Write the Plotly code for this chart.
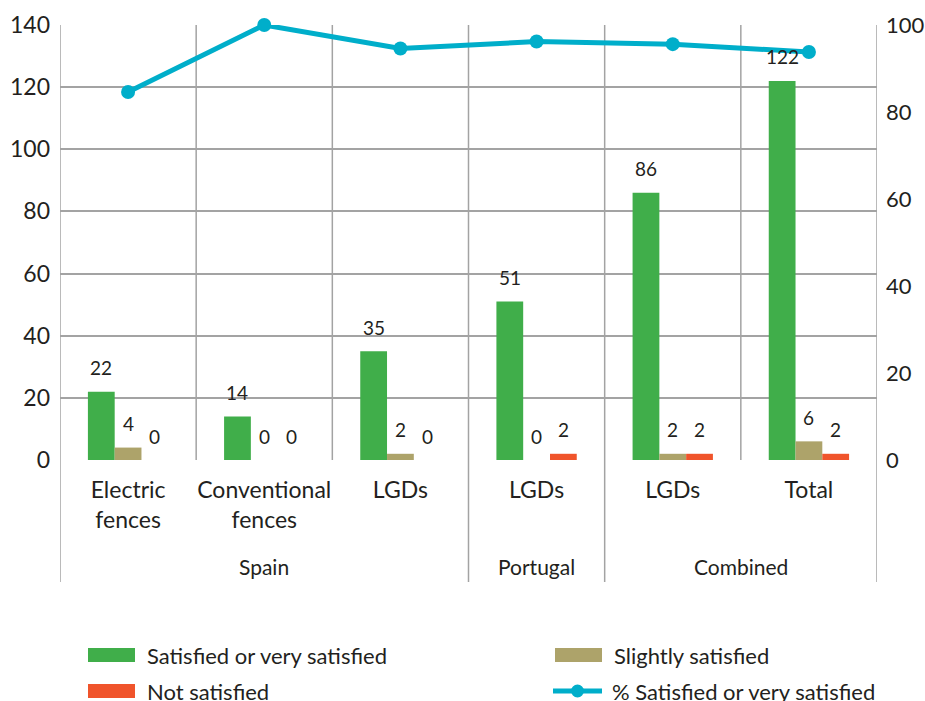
import plotly.graph_objects as go

# ---- data ----
categories = ["Electric<br>fences", "Conventional<br>fences", "LGDs", "LGDs", "LGDs", "Total"]
groups = ["Spain", "Portugal", "Combined"]
group_sizes = [3, 1, 2]
satisfied = [22, 14, 35, 51, 86, 122]
slightly = [4, 0, 2, 0, 2, 6]
not_satisfied = [0, 0, 0, 2, 2, 2]
pct_satisfied = [84.6, 100.0, 94.6, 96.2, 95.6, 93.8]
series_names = ["Satisfied or very satisfied", "Slightly satisfied", "Not satisfied",
                "% Satisfied or very satisfied"]
left_ticks = [0, 20, 40, 60, 80, 100, 120, 140]
right_ticks = [0, 20, 40, 60, 80, 100]

# ---- style ----
W, H = 925, 701
PL, PR, PT, PB = 60, 877, 25, 460          # plot area in page pixels
L, R, T, B = PL, W - PR, PT, H - PB
PW, PH = PR - PL, PB - PT
GREEN, TAN, RED, CYAN = "#40AE4A", "#ADA36A", "#F0542B", "#00AECA"
GRID = "#A3A3A3"
TXT = "#231F20"
FONT = "Lato"
BARGAP = 0.41

def px_x(px):
    return (px - PL) / PW

def px_y(py):
    return (PB - py) / PH

n = len(categories)
xs = list(range(n))
cat_px = PW / n
bar_px = cat_px * (1 - BARGAP) / 3

fig = go.Figure()
annotations = []
for k, (vals, name, col) in enumerate([(satisfied, series_names[0], GREEN),
                                       (slightly, series_names[1], TAN),
                                       (not_satisfied, series_names[2], RED)]):
    fig.add_trace(go.Bar(x=xs, y=vals, name=name, marker_color=col, marker_line_width=0,
                         showlegend=False))
    for xi, v in zip(xs, vals):
        annotations.append(dict(x=xi, y=v, xref="x", yref="y", text=str(v), showarrow=False,
                                xshift=(k - 1) * bar_px, yshift=24, yanchor="middle",
                                font=dict(family=FONT, size=19, color=TXT)))

fig.add_trace(go.Scatter(x=xs, y=pct_satisfied, name=series_names[3], yaxis="y2",
                         mode="lines+markers", line=dict(color=CYAN, width=5),
                         marker=dict(size=14, color=CYAN), showlegend=False, cliponaxis=False))

shapes = []
bounds = [0]
for s in group_sizes:
    bounds.append(bounds[-1] + s)
for i in range(n + 1):
    y0 = px_y(582) if i in bounds else 0
    shapes.append(dict(type="line", xref="x", yref="paper", x0=i - 0.5, x1=i - 0.5,
                       y0=y0, y1=1, line=dict(color=GRID, width=1.5), layer="below"))

for g, a, b in zip(groups, bounds[:-1], bounds[1:]):
    annotations.append(dict(x=(a + b - 1) / 2, xref="x", y=px_y(566), yref="paper",
                            text=g, showarrow=False, yanchor="middle",
                            font=dict(family=FONT, size=21, color=TXT)))

# legend (manual, two columns)
leg = [(series_names[0], GREEN, "bar", 88, 655),
       (series_names[1], TAN, "bar", 555, 655),
       (series_names[2], RED, "bar", 88, 691),
       (series_names[3], CYAN, "line", 553, 691)]
for name, col, kind, x0, yc in leg:
    if kind == "bar":
        shapes.append(dict(type="rect", xref="paper", yref="paper",
                           x0=px_x(x0), x1=px_x(x0 + 47), y0=px_y(yc + 7), y1=px_y(yc - 7),
                           fillcolor=col, line=dict(width=0)))
    else:
        shapes.append(dict(type="line", xref="paper", yref="paper",
                           x0=px_x(x0), x1=px_x(x0 + 49), y0=px_y(yc), y1=px_y(yc),
                           line=dict(color=col, width=5)))
        shapes.append(dict(type="circle", xref="paper", yref="paper",
                           x0=px_x(x0 + 18), x1=px_x(x0 + 31), y0=px_y(yc + 6.5), y1=px_y(yc - 6.5),
                           fillcolor=col, line=dict(width=0)))
    annotations.append(dict(x=px_x(x0 + 57), y=px_y(yc), xref="paper", yref="paper",
                            text=name, showarrow=False, xanchor="left", yanchor="middle",
                            font=dict(family=FONT, size=22, color=TXT)))

fig.update_layout(
    width=W, height=H, margin=dict(l=L, r=R, t=T, b=B, autoexpand=False),
    paper_bgcolor="white", plot_bgcolor="white",
    barmode="group", bargap=BARGAP, bargroupgap=0,
    font=dict(family=FONT, size=22, color=TXT),
    showlegend=False,
    shapes=shapes, annotations=annotations,
    xaxis=dict(range=[-0.5, n - 0.5], tickvals=xs, ticktext=categories, showgrid=False,
               zeroline=False, showline=False, ticks="", ticklabelstandoff=14,
               tickfont=dict(family=FONT, size=23, color=TXT), automargin=False),
    yaxis=dict(range=[0, 140], tickvals=left_ticks, showgrid=True, gridcolor=GRID, gridwidth=1.5,
               zeroline=False, showline=False, ticks="", ticklabelstandoff=9, automargin=False,
               tickfont=dict(family=FONT, size=23, color=TXT)),
    yaxis2=dict(range=[0, 100], tickvals=right_ticks, overlaying="y", side="right",
                showgrid=False, zeroline=False, showline=False, ticks="", ticklabelstandoff=8,
                automargin=False, tickfont=dict(family=FONT, size=22, color=TXT)),
)

page_css = ("document.body.style.margin='0';"
            "document.body.style.overflow='hidden';"
            "document.documentElement.style.overflow='hidden';")
fig.write_html("out.html", post_script=page_css, config={"displayModeBar": False})
